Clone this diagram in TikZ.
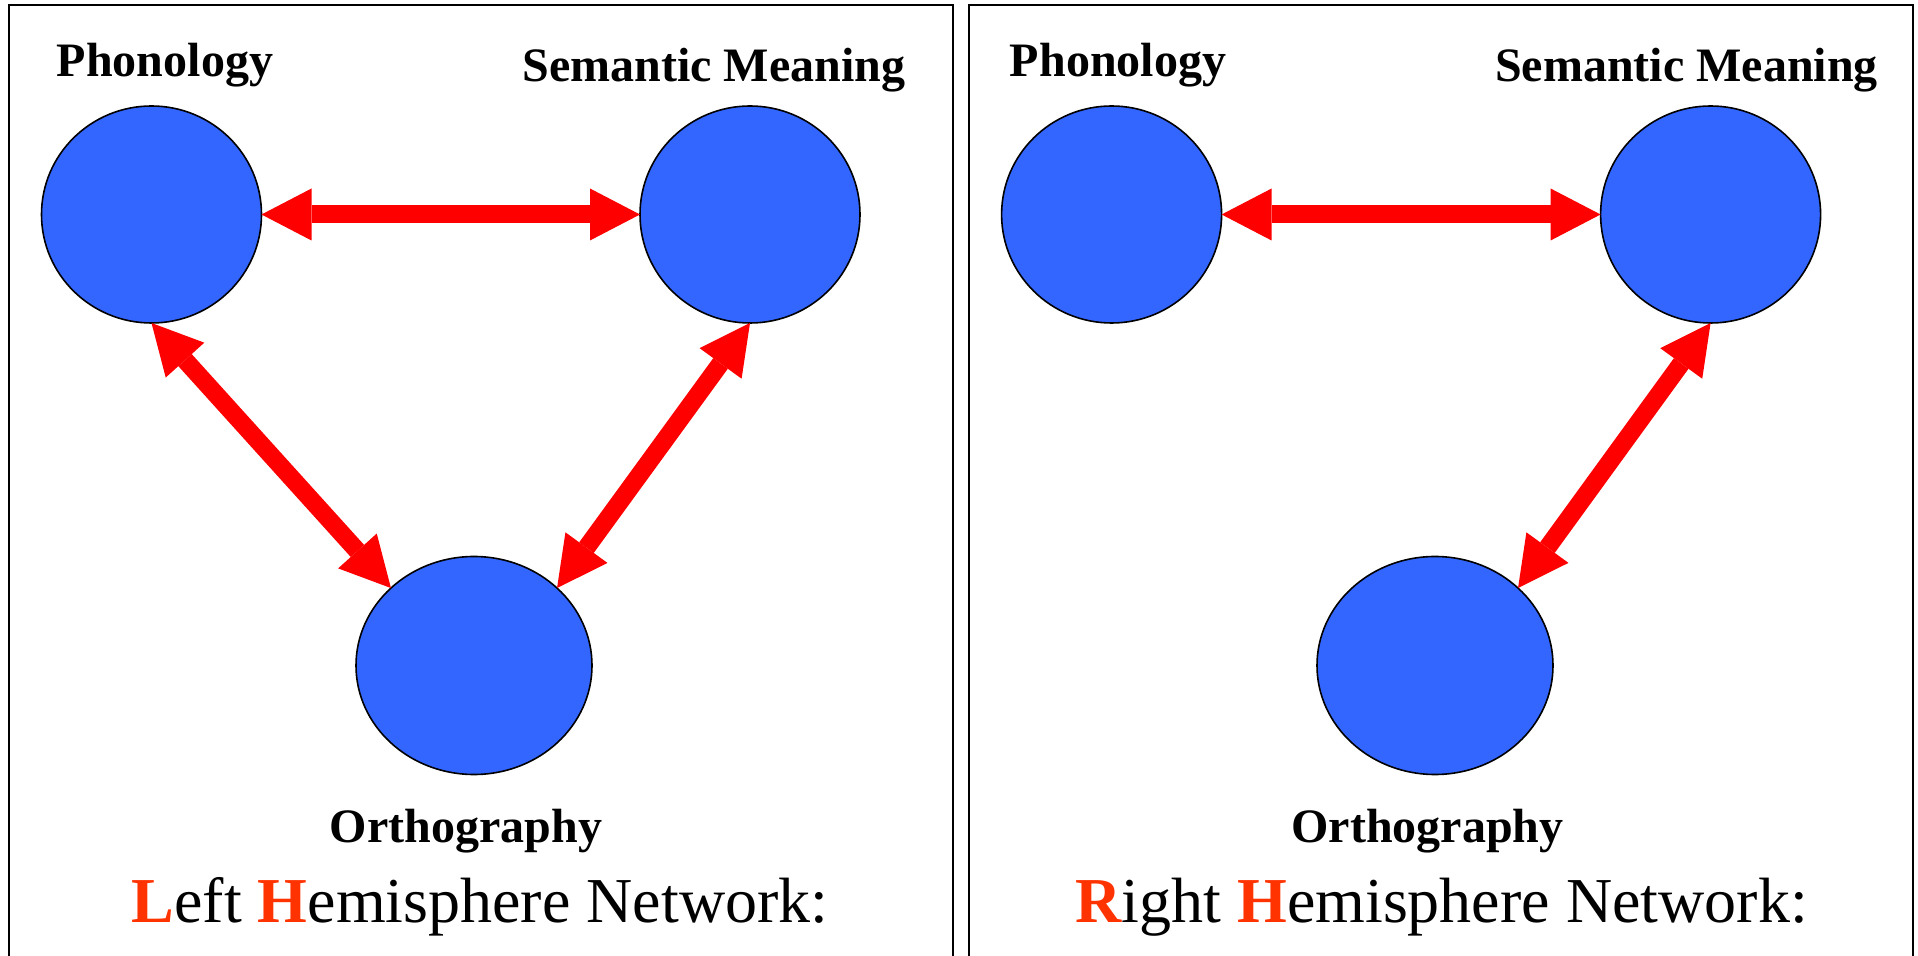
\documentclass[tikz,border=0pt]{standalone}
\usepackage{fontspec}
\setmainfont{Liberation Serif}
\usetikzlibrary{arrows.meta,shapes.geometric}
\definecolor{nodeblue}{HTML}{3366FF}
\definecolor{hired}{HTML}{FF3300}
\begin{document}
\begin{tikzpicture}[x=0.5pt,y=-0.5pt,
  blob/.style={ellipse, draw=black, line width=0.8pt, fill=nodeblue, inner sep=0pt, outer sep=0pt},
  smallblob/.style={blob, minimum width=110pt, minimum height=108.5pt},
  bigblob/.style={blob, minimum width=118pt, minimum height=109pt},
  lbl/.style={font=\bfseries\fontsize{24}{28}\selectfont, anchor=base, inner sep=0pt},
  ttl/.style={font=\fontsize{32}{38}\selectfont, anchor=base, inner sep=0pt},
  link/.style={draw=red, line width=9pt,
    {Triangle[length=25pt,width=26pt,line width=0pt]}-{Triangle[length=25pt,width=26pt,line width=0pt]}},
  frame/.style={draw=black, line width=1pt}]
\useasboundingbox (0,0) rectangle (1918,956);
% frames
\draw[frame] (9,960) -- (9,5) -- (953,5) -- (953,960);
\draw[frame] (969,960) -- (969,5) -- (1913,5) -- (1913,960);
% left panel
\node[smallblob] (lp) at (151.5,214.5) {};
\node[smallblob] (ls) at (750,214.5) {};
\node[bigblob] (lo) at (474,665.5) {};
\node[lbl] (lpl) at (165,77) {Phonology};
\node[lbl] (lsl) at (714,82) {Semantic Meaning};
\node[lbl] (lol) at (466,842) {Orthography};
\node[ttl] (lt) at (480,922) {\textcolor{hired}{\bfseries L}eft \textcolor{hired}{\bfseries H}emisphere Network:};
\draw[link] (lp.east) -- (ls.west);
\draw[link] (lp.south) -- (lo.137);
\draw[link] (ls.south) -- (lo.43);
% right panel
\node[smallblob] (rp) at (1111.6,214.5) {};
\node[smallblob] (rs) at (1710.6,214.5) {};
\node[bigblob] (ro) at (1435,665.5) {};
\node[lbl] (rpl) at (1118,77) {Phonology};
\node[lbl] (rsl) at (1686.5,82) {Semantic Meaning};
\node[lbl] (rol) at (1427.6,842) {Orthography};
\node[ttl] (rt) at (1441.6,922) {\textcolor{hired}{\bfseries R}ight \textcolor{hired}{\bfseries H}emisphere Network:};
\draw[link] (rp.east) -- (rs.west);
\draw[link] (rs.south) -- (ro.43);
\end{tikzpicture}
\end{document}
